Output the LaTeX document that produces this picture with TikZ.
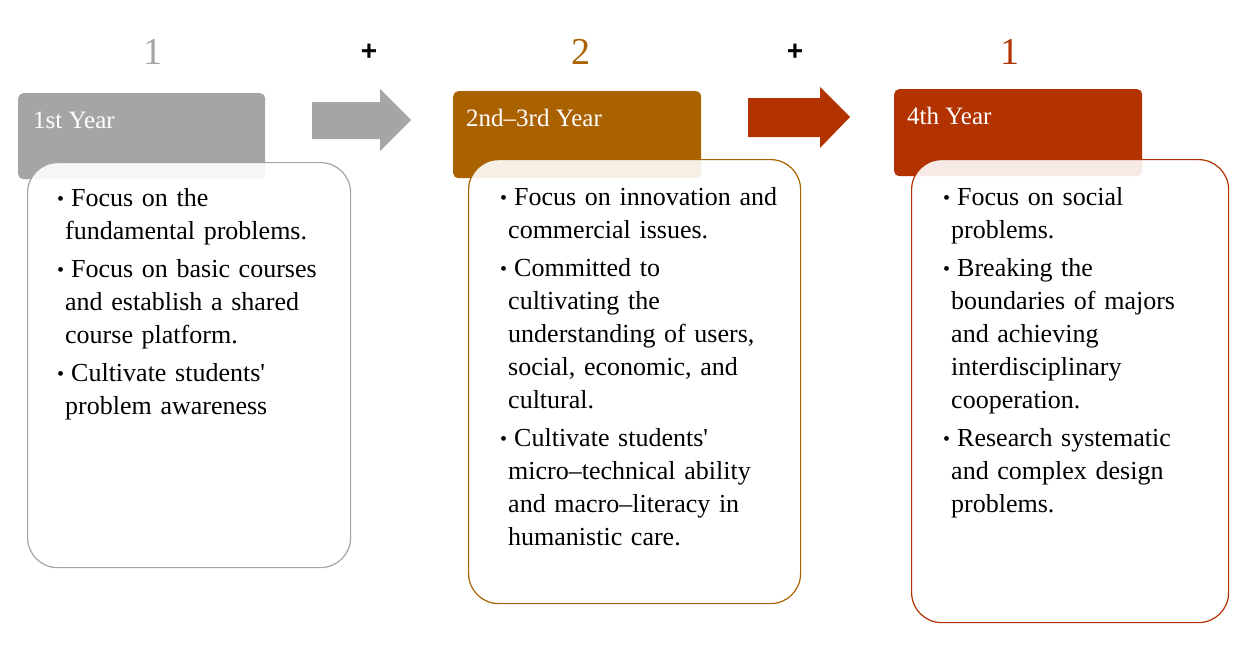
\documentclass[tikz,border=0pt]{standalone}
\usepackage{fontspec}
\setmainfont{Liberation Serif}
\setsansfont{Liberation Sans}
\usetikzlibrary{positioning}
\definecolor{yrgray}{RGB}{165,165,165}
\definecolor{yrbrown}{RGB}{170,98,0}
\definecolor{yrred}{RGB}{178,50,0}
\newcommand{\bul}[1]{\par\leftskip=8pt\relax\noindent\hspace*{-8pt}\makebox[14pt][l]{\raisebox{1pt}{\fontsize{20}{20}\selectfont\textbullet}}#1\par}
\tikzset{
  yearhead/.style = {rectangle, rounded corners=5pt, anchor=north west, inner sep=0pt},
  yearcard/.style = {rectangle, rounded corners=30pt, anchor=north west, inner sep=0pt,
                     line width=1.2pt, fill=white, fill opacity=0.9, draw opacity=1},
  headlabel/.style = {anchor=base west, inner sep=0pt, text=white, font=\fontsize{25}{30}\selectfont},
  cardtext/.style = {anchor=north west, inner sep=0pt, text width=300pt,
                     font=\fontsize{26}{33}\selectfont,
                     execute at begin node={\setlength{\parskip}{5pt}\raggedright}},
  countnum/.style = {inner sep=0pt, font=\fontsize{38}{40}\selectfont},
  plussign/.style = {inner sep=0pt, font=\sffamily\bfseries\fontsize{28}{30}\selectfont}
}
\begin{document}
\begin{tikzpicture}[x=1pt, y=-1pt]
  \useasboundingbox (0,0) rectangle (1255,648);
  % counts on top
  \node [countnum, text=yrgray] (num1) at (153,52) {1};
  \node [plussign] (plus1) at (369,52) {+};
  \node [countnum, text=yrbrown] (num2) at (581,52) {2};
  \node [plussign] (plus2) at (795,52) {+};
  \node [countnum, text=yrred] (num3) at (1010,52) {1};
  % block arrows
  \fill [yrgray] (312,102) -- (380,102) -- (380,89) -- (411,120) -- (380,151) -- (380,139) -- (312,139) -- cycle;
  \fill [yrred] (748,98) -- (820,98) -- (820,87) -- (850,117) -- (820,148) -- (820,137) -- (748,137) -- cycle;
  % 1st year
  \node [yearhead, fill=yrgray, minimum width=247pt, minimum height=86pt] (head1) at (18,93) {};
  \node [headlabel] (lab1) at (33,128) {1st Year};
  \node [yearcard, draw=yrgray, minimum width=323pt, minimum height=405pt] (card1) at (27,162) {};
  \node [cardtext] (text1) at (57,168) {%
    \bul{Focus on the\\fundamental problems.}
    \bul{Focus on basic courses\\and establish a shared\\course platform.}
    \bul{Cultivate students\textquotesingle\\problem awareness}};
  % 2nd-3rd year
  \node [yearhead, fill=yrbrown, minimum width=248pt, minimum height=87pt] (head2) at (453,91) {};
  \node [headlabel] (lab2) at (466,126) {2nd--3rd Year};
  \node [yearcard, draw=yrbrown, minimum width=332pt, minimum height=444pt] (card2) at (468,159) {};
  \node [cardtext] (text2) at (500,167) {%
    \bul{Focus on innovation and\\commercial issues.}
    \bul{Committed to\\cultivating the\\understanding of users,\\social, economic, and\\cultural.}
    \bul{Cultivate students\textquotesingle\\micro--technical ability\\and macro--literacy in\\humanistic care.}};
  % 4th year
  \node [yearhead, fill=yrred, minimum width=248pt, minimum height=87pt] (head3) at (894,89) {};
  \node [headlabel] (lab3) at (907,124) {4th Year};
  \node [yearcard, draw=yrred, minimum width=317pt, minimum height=463pt] (card3) at (911,159) {};
  \node [cardtext] (text3) at (943,167) {%
    \bul{Focus on social\\problems.}
    \bul{Breaking the\\boundaries of majors\\and achieving\\interdisciplinary\\cooperation.}
    \bul{Research systematic\\and complex design\\problems.}};
\end{tikzpicture}
\end{document}
